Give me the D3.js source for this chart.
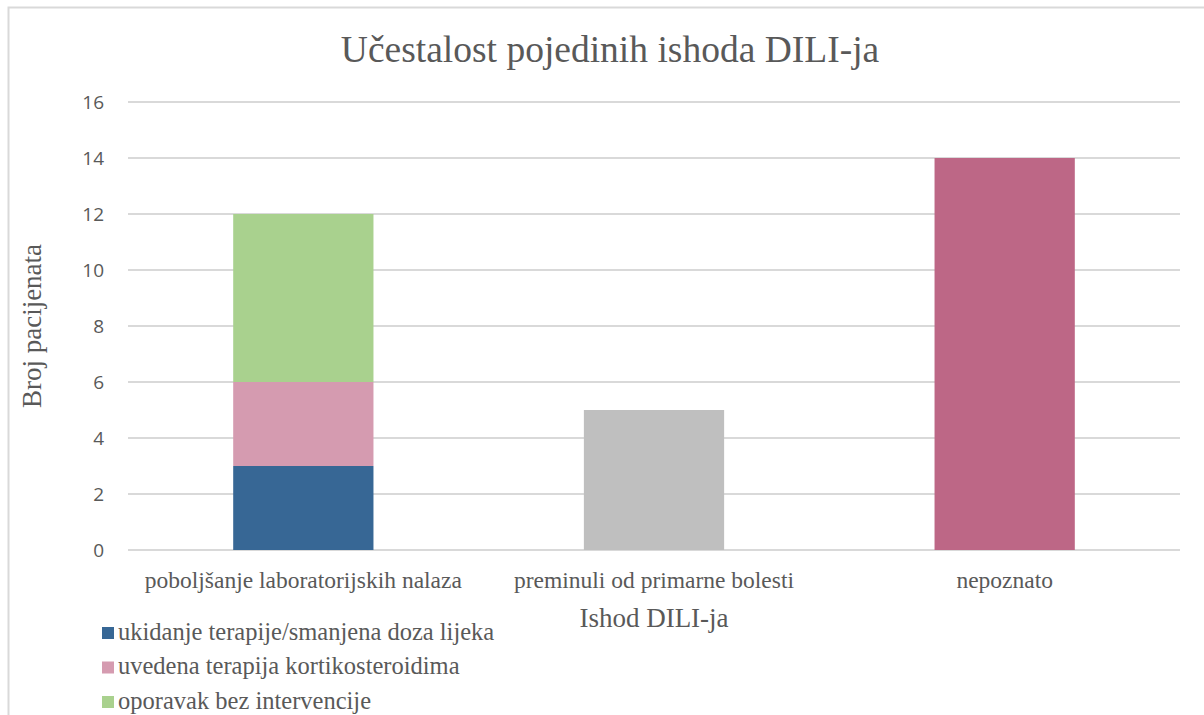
<!DOCTYPE html>
<html>
<head>
<meta charset="utf-8">
<script src="https://cdn.jsdelivr.net/npm/d3@7"></script>
<style>
  body { margin: 0; background: #fff; }
  .axis--y text { font-family: "Open Sans", "Liberation Sans", sans-serif; font-size: 19px; fill: #595959; }
  .axis--x text { font-family: "Liberation Serif", serif; font-size: 23.5px; fill: #595959; }
  .grid line { stroke: #d9d9d9; stroke-width: 2; }
</style>
</head>
<body>
<svg id="chart" width="1204" height="715"></svg>
<script>
var categories = ["poboljšanje laboratorijskih nalaza", "preminuli od primarne bolesti", "nepoznato"]
var stackKeys  = ["ukidanje terapije/smanjena doza lijeka", "uvedena terapija kortikosteroidima", "oporavak bez intervencije"]
var stackColors = ["#376795", "#d59bb0", "#a9d18e"]
// stacked segments of the first category
var stackValues = [3, 3, 6]
// single bars for the other two categories
var singleValues = [null, 5, 14]
var singleColors = [null, "#bfbfbf", "#bd6786"]
var yTicks = [0, 2, 4, 6, 8, 10, 12, 14, 16]

var svg = d3.select("#chart"),
    margin = {top: 102, right: 24, bottom: 165, left: 128},
    width  = +svg.attr("width")  - margin.left - margin.right,
    height = +svg.attr("height") - margin.top  - margin.bottom;

// outer frame (only left and top edges fall inside the picture)
svg.append("path")
  .attr("d", "M8.5,715 V7.5 H1204")
  .attr("fill", "none")
  .attr("stroke", "#d9d9d9")
  .attr("stroke-width", 2);

var x = d3.scaleBand().domain(categories).range([0, width]).paddingInner(0.6).paddingOuter(0.3);
var y = d3.scaleLinear().domain([0, 16]).range([height, 0]);

var g = svg.append("g").attr("transform", "translate(" + margin.left + "," + margin.top + ")");

g.append("g").attr("class", "grid")
  .selectAll("line").data(yTicks).enter().append("line")
    .attr("x1", 0).attr("x2", width)
    .attr("y1", function(d) { return y(d); })
    .attr("y2", function(d) { return y(d); });

var yAxis = d3.axisLeft(y).tickValues(yTicks).tickSize(0).tickPadding(24);
g.append("g").attr("class", "axis axis--y").call(yAxis)
  .call(function(s) { s.select(".domain").remove(); });

// stacked bar
var stackRows = stackValues.map(function(v, i) {
  var base = d3.sum(stackValues.slice(0, i));
  return {key: stackKeys[i], y0: base, y1: base + v, color: stackColors[i]};
});
g.selectAll(".seg").data(stackRows).enter().append("rect")
  .attr("class", "seg")
  .attr("x", x(categories[0]))
  .attr("width", x.bandwidth())
  .attr("y", function(d) { return y(d.y1); })
  .attr("height", function(d) { return y(d.y0) - y(d.y1); })
  .attr("fill", function(d) { return d.color; });

// the other bars
var singles = categories.map(function(c, i) { return {cat: c, v: singleValues[i], color: singleColors[i]}; })
  .filter(function(d) { return d.v != null; });
g.selectAll(".bar").data(singles).enter().append("rect")
  .attr("class", "bar")
  .attr("x", function(d) { return x(d.cat); })
  .attr("width", x.bandwidth())
  .attr("y", function(d) { return y(d.v); })
  .attr("height", function(d) { return height - y(d.v); })
  .attr("fill", function(d) { return d.color; });

var xAxis = d3.axisBottom(x).tickSize(0).tickPadding(21);
g.append("g").attr("class", "axis axis--x")
  .attr("transform", "translate(0," + height + ")")
  .call(xAxis)
  .call(function(s) { s.select(".domain").remove(); });

// title + axis titles
svg.append("text")
  .attr("x", 610).attr("y", 62)
  .attr("text-anchor", "middle")
  .style("font-family", "Liberation Serif, serif").style("font-size", "37.5px").style("fill", "#595959")
  .text("Učestalost pojedinih ishoda DILI-ja");

svg.append("text")
  .attr("x", margin.left + width / 2).attr("y", 627)
  .attr("text-anchor", "middle")
  .style("font-family", "Liberation Serif, serif").style("font-size", "27px").style("fill", "#595959")
  .text("Ishod DILI-ja");

svg.append("text")
  .attr("transform", "translate(41," + (margin.top + height / 2) + ") rotate(-90)")
  .attr("text-anchor", "middle")
  .style("font-family", "Liberation Serif, serif").style("font-size", "27px").style("fill", "#595959")
  .text("Broj pacijenata");

// legend
var legend = svg.append("g").attr("transform", "translate(102,633)");
var item = legend.selectAll(".item").data(stackKeys).enter().append("g")
  .attr("class", "item")
  .attr("transform", function(d, i) { return "translate(0," + (i * 34.5) + ")"; });
item.append("rect")
  .attr("x", 0).attr("y", -6).attr("width", 12).attr("height", 12)
  .attr("fill", function(d, i) { return stackColors[i]; });
item.append("text")
  .attr("x", 16).attr("y", 6.5)
  .style("font-family", "Liberation Serif, serif").style("font-size", "24.5px").style("fill", "#595959")
  .text(function(d) { return d; });
</script>
</body>
</html>
